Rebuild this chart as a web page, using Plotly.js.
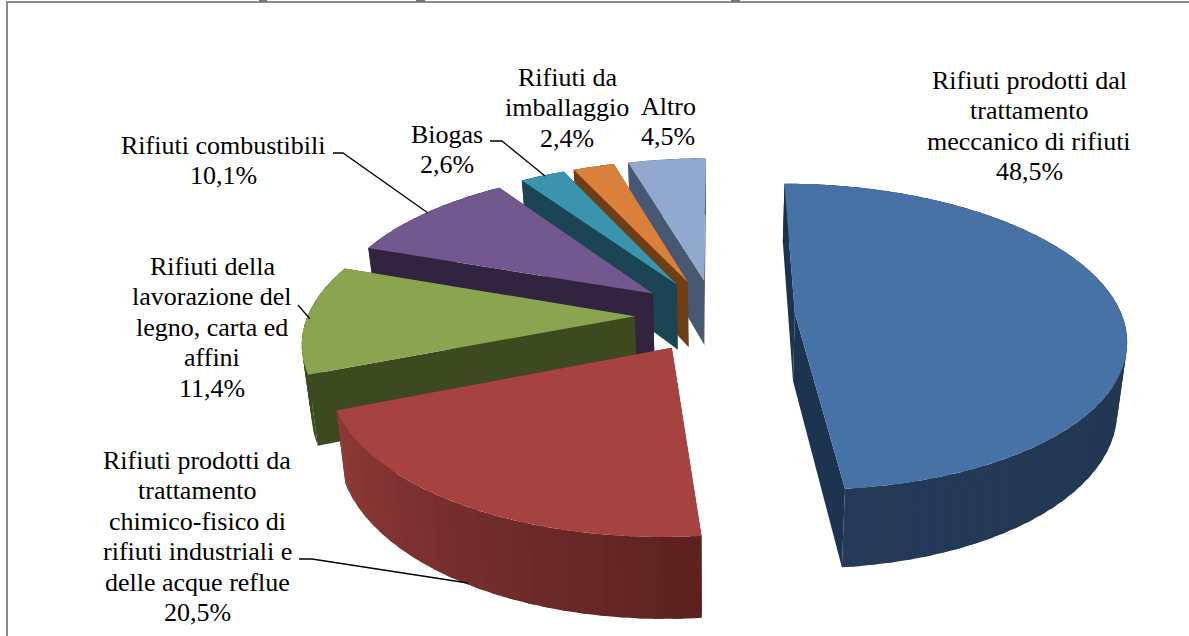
<!DOCTYPE html>
<html><head><meta charset="utf-8">
<script src="https://cdn.plot.ly/plotly-3.0.1.min.js"></script>
<style>html,body{margin:0;padding:0;background:#fff}</style></head>
<body><div id="chart" style="width:1189px;height:636px"></div>
<script>
// Data
const categories = ["Rifiuti prodotti dal trattamento meccanico di rifiuti","Rifiuti prodotti da trattamento chimico-fisico di rifiuti industriali e delle acque reflue","Rifiuti della lavorazione del legno, carta ed affini","Rifiuti combustibili","Biogas","Rifiuti da imballaggio","Altro"];
const values = [48.5,20.5,11.4,10.1,2.6,2.4,4.5];
const labelLines = [
 ["Rifiuti prodotti dal","trattamento","meccanico di rifiuti","48,5%"],
 ["Rifiuti prodotti da","trattamento","chimico-fisico di","rifiuti industriali e","delle acque reflue","20,5%"],
 ["Rifiuti della","lavorazione del","legno, carta ed","affini","11,4%"],
 ["Rifiuti combustibili","10,1%"],
 ["Biogas","2,6%"],
 ["Rifiuti da","imballaggio","2,4%"],
 ["Altro","4,5%"]];
// Styles
const topColors = ["#4672a6","#a64340","#8aa44f","#71588f","#3c93ae","#d9813a","#91a8cf"];
const sideColors= ["#1d3450","#5b2220","#3d4a1f","#32243f","#1b4554","#6f3e14","#475873"];
const wallFrom  = ["#1c3149","#5b2220","#3d4a1f","#32243f","#1b4554","#6f3e14","#475873"]; // smaller angle
const wallTo    = ["#243a58","#8f3a36","#3d4a1f","#32243f","#1b4554","#6f3e14","#475873"]; // larger angle
const labelX = [1029,197,212,223,447,567,668];
const labelY = [80,460,266,145,134,77,106];
const LH = 30.5;
// Projection of the tilted pie
const CX=715, CY=315.5, A=327, B=150, K=0.15, EXPLODE=0.245, DEPTH=67, SHRINK=0.976;
function proj(u,v,low){
  const w=1+K*v; let x=CX+A*u/w, y=CY-B*v/w;
  if(low){x=CX+(x-CX)*SHRINK; y+=DEPTH/w;}
  return [x,y];
}
function hex(c){return [1,3,5].map(i=>parseInt(c.substr(i,2),16));}
function mix(a,b,t){const p=hex(a),q=hex(b);return 'rgb('+p.map((v,i)=>Math.round(v+(q[i]-v)*t)).join(',')+')';}
function poly(pts,color,name){
  return {type:'scatter',mode:'none',x:pts.map(p=>p[0]),y:pts.map(p=>p[1]),fill:'toself',fillcolor:color,
    hoverinfo:'text',text:name,showlegend:false};
}
const total=values.reduce((a,b)=>a+b,0);
let angle=0; const slices=values.map((v,i)=>{const a0=angle,a1=angle+v/total*2*Math.PI;angle=a1;return {i,a0,a1};});
const traces=[];
// painter's order: far slices first, clockwise from the last one; blue last
[6,5,4,3,2,1,0].forEach(i=>{
  const s=slices[i], mid=(s.a0+s.a1)/2;
  const ou=EXPLODE*Math.sin(mid), ov=EXPLODE*Math.cos(mid);
  const P=(r,a,low)=>proj(ou+r*Math.sin(a),ov+r*Math.cos(a),low);
  const name=categories[i];
  // radial walls
  [s.a0,s.a1].forEach(a=>{
    traces.push(poly([P(0,0,false),P(1,a,false),P(1,a,true),P(0,0,true)],sideColors[i],name));
  });
  // outer wall: overlapping strips, so the gradient shows no seams
  const n=Math.max(2,Math.round((s.a1-s.a0)/0.05));
  for(let k=0;k<n;k++){
    const a=s.a0+(s.a1-s.a0)*k/n,b=s.a0+(s.a1-s.a0)*(k+1)/n;
    const c=k<n-1?b+(b-a)*0.5:b;
    const strip=[];
    for(let t=0;t<=4;t++)strip.push(P(1,a+(c-a)*t/4,false));
    for(let t=4;t>=0;t--)strip.push(P(1,a+(c-a)*t/4,true));
    traces.push(poly(strip,mix(wallFrom[i],wallTo[i],(k+0.5)/n),name));
  }
  // top face
  const pts=[P(0,0,false)];
  const m=Math.max(8,Math.round((s.a1-s.a0)/0.02));
  for(let k=0;k<=m;k++)pts.push(P(1,s.a0+(s.a1-s.a0)*k/m,false));
  pts.push(P(0,0,false));
  traces.push(poly(pts,topColors[i],name));
});
const leaders=[
 [[333,153],[343,153],[428,213]],
 [[490,141],[502,141],[545,176]],
 [[298,305],[310,319]],
 [[299,559],[312,559],[468,583]]];
const shapes=leaders.map(l=>({type:'path',xref:'x',yref:'y',line:{color:'#000',width:1.3},
  path:'M'+l.map(p=>p.join(',')).join('L')}));
// frame: only the left and top sides are in the crop
shapes.push({type:'path',xref:'x',yref:'y',path:'M7,640L7,2L1189,2',line:{color:'#8c8c8c',width:2}});
// tips of a cropped title above the frame
[[259,267],[416,425],[731,740]].forEach(t=>shapes.push({type:'rect',xref:'x',yref:'y',x0:t[0],x1:t[1],y0:0,y1:2,
  line:{width:0},fillcolor:'#777'}));
const annotations=[];
labelLines.forEach((lines,i)=>lines.forEach((t,j)=>annotations.push({
  xref:'x',yref:'y',x:labelX[i],y:labelY[i]+j*LH,text:t,showarrow:false,xanchor:'center',yanchor:'middle',
  font:{family:'"Liberation Serif",serif',size:26,color:'#000'}})));
Plotly.newPlot('chart',traces,{
  width:1189,height:636,margin:{l:0,r:0,t:0,b:0},paper_bgcolor:'#fff',plot_bgcolor:'#fff',showlegend:false,
  xaxis:{range:[0,1189],visible:false,fixedrange:true},
  yaxis:{range:[636,0],visible:false,fixedrange:true},
  shapes,annotations
},{displayModeBar:false,staticPlot:true});
</script></body></html>
